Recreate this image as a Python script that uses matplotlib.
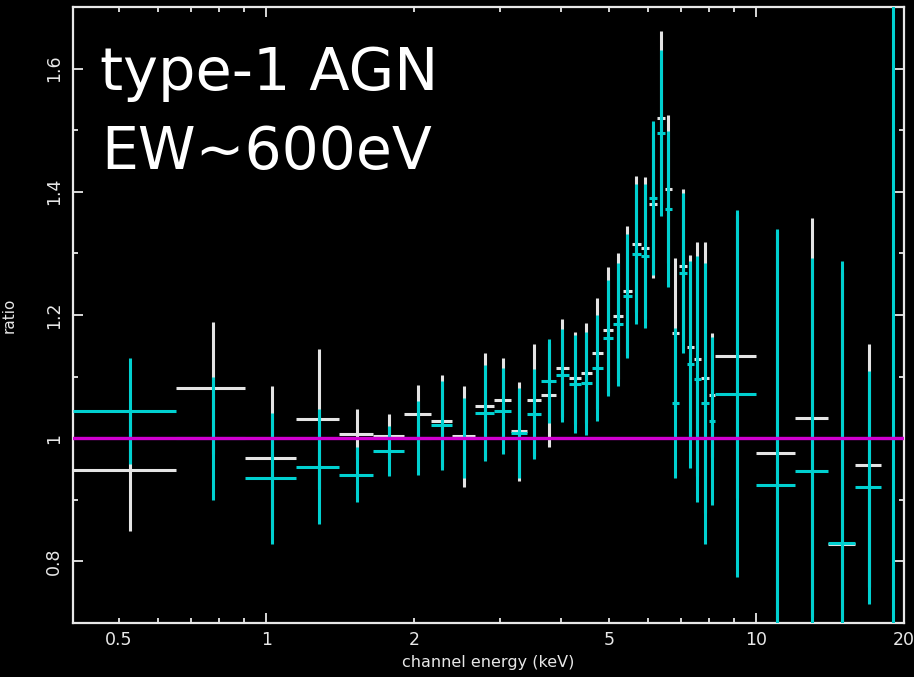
import numpy as np
import matplotlib
matplotlib.use("Agg")
import matplotlib.pyplot as plt
from matplotlib.ticker import FixedLocator, FuncFormatter

# ---------------- data ----------------
bin_edges = [0.403, 0.653, 0.906, 1.151, 1.408, 1.652, 1.910, 2.168, 2.392, 2.666,
             2.913, 3.155, 3.401, 3.632, 3.896, 4.141, 4.380, 4.613, 4.857, 5.090,
             5.335, 5.566, 5.805, 6.026, 6.256, 6.495, 6.713, 6.937, 7.202, 7.442,
             7.690, 7.985, 8.213, 10.0, 12.0, 14.02, 15.91, 17.97, 19.93]

cyan_ratio = [1.044, 1.000, 0.935, 0.954, 0.941, 0.979, 1.000, 1.021, 1.000, 1.041,
              1.044, 1.008, 1.039, 1.093, 1.102, 1.088, 1.089, 1.114, 1.163, 1.185,
              1.231, 1.299, 1.296, 1.390, 1.496, 1.372, 1.057, 1.268, 1.120, 1.096,
              1.057, 1.028, 1.072, 0.924, 0.946, 0.830, 0.920, 1.000]
cyan_err = [0.086, 0.100, 0.106, 0.094, 0.045, 0.041, 0.060, 0.072, 0.065, 0.078,
            0.070, 0.073, 0.073, 0.068, 0.075, 0.080, 0.083, 0.086, 0.094, 0.100,
            0.100, 0.114, 0.117, 0.125, 0.135, 0.127, 0.122, 0.130, 0.168, 0.200,
            0.228, 0.137, 0.298, 0.416, 0.346, 0.457, 0.189, 1.000]

white_ratio = [0.948, 1.081, 0.968, 1.031, 1.007, 1.003, 1.039, 1.028, 1.003, 1.052,
               1.062, 1.011, 1.062, 1.070, 1.114, 1.098, 1.106, 1.138, 1.176, 1.198,
               1.239, 1.315, 1.309, 1.380, 1.520, 1.405, 1.171, 1.280, 1.148, 1.128,
               1.098, 1.070, 1.133, 0.976, 1.033, 0.829, 0.956, np.nan]
white_err = [0.099, 0.107, 0.117, 0.114, 0.041, 0.036, 0.047, 0.075, 0.082, 0.086,
             0.068, 0.081, 0.091, 0.085, 0.080, 0.075, 0.081, 0.090, 0.102, 0.102,
             0.106, 0.110, 0.115, 0.120, 0.141, 0.120, 0.122, 0.124, 0.150, 0.190,
             0.220, 0.100, 0.230, 0.360, 0.324, 0.440, 0.197, np.nan]

model_ratio = 1.0
x_labelled = [0.5, 2, 5, 20]
y_ticks = [0.8, 1.0, 1.2, 1.4, 1.6]
y_ticklabels = ["0.8", "1", "1.2", "1.4", "1.6"]

# ---------------- figure ----------------
W, H = 914, 677
fig = plt.figure(figsize=(W / 100, H / 100), dpi=100, facecolor="black")
ax = fig.add_axes([73 / W, 1 - 623 / H, (904 - 73) / W, (623 - 7) / H], facecolor="black")

edges = np.array(bin_edges)
lo, hi = edges[:-1], edges[1:]
mid = 0.5 * (lo + hi)

fg = "#e8e8e8"
cyan = "#00d0d0"
magenta = "#d000d0"

ax.errorbar(mid, white_ratio, yerr=white_err, xerr=[mid - lo, hi - mid], fmt="none",
            ecolor="#e4e4e4", elinewidth=2.2, capsize=0, zorder=2)
ax.errorbar(mid, cyan_ratio, yerr=cyan_err, xerr=[mid - lo, hi - mid], fmt="none",
            ecolor=cyan, elinewidth=2.2, capsize=0, zorder=3)
ax.axhline(model_ratio, color=magenta, lw=2.4, zorder=4)

ax.set_xscale("log")
ax.set_xlim(0.403, 20)
ax.set_ylim(0.7, 1.7)

# x ticks: long at decades, short elsewhere, labels at 0.5,1,2,5,10,20
major_x = [1, 10]
minor_x = [0.5, 0.6, 0.7, 0.8, 0.9, 2, 3, 4, 5, 6, 7, 8, 9, 20]
ax.xaxis.set_major_locator(FixedLocator(major_x))
ax.xaxis.set_minor_locator(FixedLocator(minor_x))
ax.xaxis.set_major_formatter(FuncFormatter(lambda v, p: "%g" % v))
ax.xaxis.set_minor_formatter(FuncFormatter(lambda v, p: ("%g" % v) if any(abs(v - t) < 1e-9 for t in x_labelled) else ""))

ax.yaxis.set_major_locator(FixedLocator(y_ticks))
ax.yaxis.set_minor_locator(FixedLocator([0.7, 0.9, 1.1, 1.3, 1.5, 1.7]))
ax.set_yticklabels(y_ticklabels, rotation=90, va="center")

ax.tick_params(which="both", direction="in", top=True, right=True, colors=fg,
               width=1.3, labelsize=12.5)
ax.tick_params(which="major", length=7)
ax.tick_params(which="minor", length=3.5)
ax.tick_params(axis="x", which="both", pad=6)
ax.tick_params(axis="y", which="both", pad=7)

for s in ax.spines.values():
    s.set_color(fg)
    s.set_linewidth(1.6)

ax.set_xlabel("channel energy (keV)", color=fg, fontsize=11.5, labelpad=4)
ax.set_ylabel("ratio", color=fg, fontsize=11)
ax.yaxis.set_label_coords((17 - 73) / (904 - 73), 0.5)

# annotation text
fig.text(100 / W, 1 - 90 / H, "type-1 AGN", color="white", fontsize=42.5,
         family="DejaVu Sans", va="baseline", ha="left")
fig.text(101 / W, 1 - 169 / H, "EW~600eV", color="white", fontsize=42,
         family="DejaVu Sans", va="baseline", ha="left")

fig.savefig("out.png", dpi=100, facecolor="black")
